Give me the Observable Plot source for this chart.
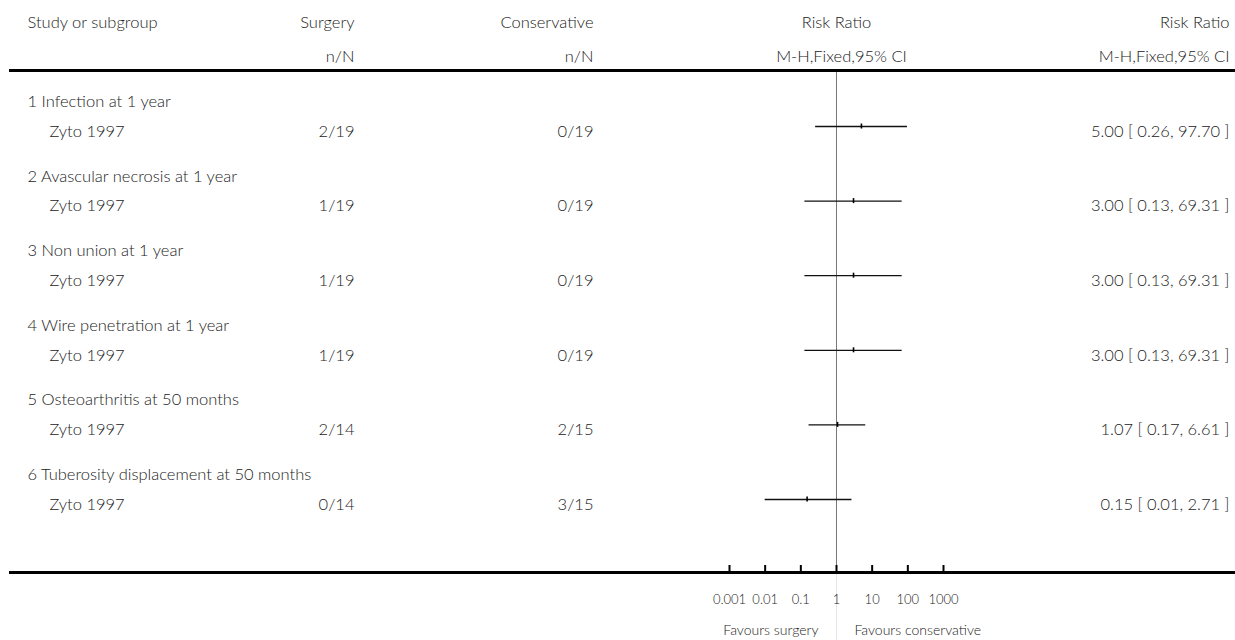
<!DOCTYPE html>
<html>
<head>
<meta charset="utf-8">
<script src="https://cdn.jsdelivr.net/npm/d3@7"></script>
<script src="https://cdn.jsdelivr.net/npm/@observablehq/plot@0.6"></script>
<style>
  html, body { margin: 0; padding: 0; background: #fff; }
</style>
</head>
<body>
<div id="chart"></div>
<script>
// ---- data ----
const outcomes = [
  "1 Infection at 1 year",
  "2 Avascular necrosis at 1 year",
  "3 Non union at 1 year",
  "4 Wire penetration at 1 year",
  "5 Osteoarthritis at 50 months",
  "6 Tuberosity displacement at 50 months"
];
const studies = ["Zyto 1997", "Zyto 1997", "Zyto 1997", "Zyto 1997", "Zyto 1997", "Zyto 1997"];
const surgeryNN = ["2/19", "1/19", "1/19", "1/19", "2/14", "0/14"];
const conservativeNN = ["0/19", "0/19", "0/19", "0/19", "2/15", "3/15"];
const riskRatio = [5.00, 3.00, 3.00, 3.00, 1.07, 0.15];
const ciLow = [0.26, 0.13, 0.13, 0.13, 0.17, 0.01];
const ciHigh = [97.70, 69.31, 69.31, 69.31, 6.61, 2.71];
const ciText = [
  "5.00 [ 0.26, 97.70 ]",
  "3.00 [ 0.13, 69.31 ]",
  "3.00 [ 0.13, 69.31 ]",
  "3.00 [ 0.13, 69.31 ]",
  "1.07 [ 0.17, 6.61 ]",
  "0.15 [ 0.01, 2.71 ]"
];
const axisTicks = [0.001, 0.01, 0.1, 1, 10, 100, 1000];
const axisTickLabels = ["0.001", "0.01", "0.1", "1", "10", "100", "1000"];
const headerStudy = "Study or subgroup";
const headerSurgery = ["Surgery", "n/N"];
const headerConservative = ["Conservative", "n/N"];
const headerRR = ["Risk Ratio", "M-H,Fixed,95% CI"];
const favoursLeft = "Favours surgery";
const favoursRight = "Favours conservative";

// ---- table built from the arrays ----
const rows = outcomes.map((o, i) => ({
  i, outcome: o, study: studies[i], s: surgeryNN[i], c: conservativeNN[i],
  rr: riskRatio[i], lo: ciLow[i], hi: ciHigh[i], label: ciText[i]
}));

const W = 1235, H = 640;
const mTop = 70, mBottom = 68, mLeft = 10, mRight = 0;
const frameH = H - mTop - mBottom;
const groupOffset = -0.4;   // outcome heading sits above its study row
const txtDy = 5;
const ink = "#222";
const font = "Lato, 'Open Sans', sans-serif";
const fs = 16.5;

const hdr1 = -48, hdr2 = -14;
const T = { fill: ink, lineAnchor: "middle", fontWeight: 300 };

const chart = Plot.plot({
  width: W,
  height: H,
  marginTop: mTop,
  marginBottom: mBottom,
  marginLeft: mLeft,
  marginRight: mRight,
  style: { fontFamily: font, fontSize: fs + "px", color: ink, background: "#fff" },
  x: { type: "log", domain: [0.001, 1000], range: [729, 943] },
  y: { type: "linear", domain: [0, 5], range: [126, 499], axis: null },
  marks: [
    // faint continuation of the null line between the "favours" labels
    Plot.ruleX([1], { stroke: "#e4e4e4", strokeWidth: 1, insetTop: frameH, insetBottom: -mBottom }),
    // line of no effect
    Plot.ruleX([1], { stroke: "#777", strokeWidth: 1 }),
    // confidence intervals
    Plot.ruleY(rows, { y: "i", x1: "lo", x2: "hi", stroke: "#111", strokeWidth: 1.3 }),
    // point estimates
    Plot.ruleX(rows, { x: "rr", y1: "i", y2: "i", insetTop: -2.5, insetBottom: -2.5, stroke: "#000", strokeWidth: 1.6 }),
    // axis ticks
    Plot.ruleX(axisTicks, { stroke: "#000", strokeWidth: 2, insetTop: frameH - 7 }),
    Plot.axisX({
      ticks: axisTicks, tickSize: 0, tickPadding: 22,
      tickFormat: d => axisTickLabels[axisTicks.indexOf(d)],
      fontSize: 13, fill: ink, fontWeight: 300
    }),
    // thick rules
    Plot.frame({ anchor: "top", stroke: "#000", strokeWidth: 3 }),
    Plot.frame({ anchor: "bottom", stroke: "#000", strokeWidth: 3 }),

    // headers
    Plot.text([headerStudy], { ...T, frameAnchor: "top-left", text: d => d, textAnchor: "start", dx: 17, dy: hdr1 }),
    Plot.text([headerSurgery[0]], { ...T, frameAnchor: "top-left", text: d => d, textAnchor: "end", dx: 344, dy: hdr1 }),
    Plot.text([headerSurgery[1]], { ...T, frameAnchor: "top-left", text: d => d, textAnchor: "end", dx: 344, dy: hdr2 }),
    Plot.text([headerConservative[0]], { ...T, frameAnchor: "top-left", text: d => d, textAnchor: "end", dx: 583, dy: hdr1 }),
    Plot.text([headerConservative[1]], { ...T, frameAnchor: "top-left", text: d => d, textAnchor: "end", dx: 583, dy: hdr2 }),
    Plot.text([headerRR[0]], { ...T, x: () => 1, frameAnchor: "top", text: d => d, textAnchor: "middle", dx: 0, dy: hdr1 }),
    Plot.text([headerRR[1]], { ...T, x: () => 1, frameAnchor: "top", text: d => d, textAnchor: "middle", dx: 5, dy: hdr2 }),
    Plot.text([headerRR[0]], { ...T, frameAnchor: "top-right", text: d => d, textAnchor: "end", dx: -6, dy: hdr1 }),
    Plot.text([headerRR[1]], { ...T, frameAnchor: "top-right", text: d => d, textAnchor: "end", dx: -6, dy: hdr2 }),

    // outcome headings
    Plot.text(rows, { ...T, y: d => d.i + groupOffset, frameAnchor: "left", text: "outcome", textAnchor: "start", dx: 17, dy: txtDy }),
    // study rows
    Plot.text(rows, { ...T, y: "i", frameAnchor: "left", text: "study", textAnchor: "start", dx: 39, dy: txtDy }),
    Plot.text(rows, { ...T, y: "i", frameAnchor: "left", text: "s", textAnchor: "end", dx: 344, dy: txtDy }),
    Plot.text(rows, { ...T, y: "i", frameAnchor: "left", text: "c", textAnchor: "end", dx: 583, dy: txtDy }),
    Plot.text(rows, { ...T, y: "i", frameAnchor: "right", text: "label", textAnchor: "end", dx: -6, dy: txtDy, letterSpacing: 0.6 }),

    // favours labels
    Plot.text([favoursLeft], { ...T, x: () => 1, frameAnchor: "bottom", text: d => d, textAnchor: "end", dx: -18, dy: 58, fontSize: 14 }),
    Plot.text([favoursRight], { ...T, x: () => 1, frameAnchor: "bottom", text: d => d, textAnchor: "start", dx: 18, dy: 58, fontSize: 14 })
  ]
});
document.getElementById("chart").appendChild(chart);
</script>
</body>
</html>
